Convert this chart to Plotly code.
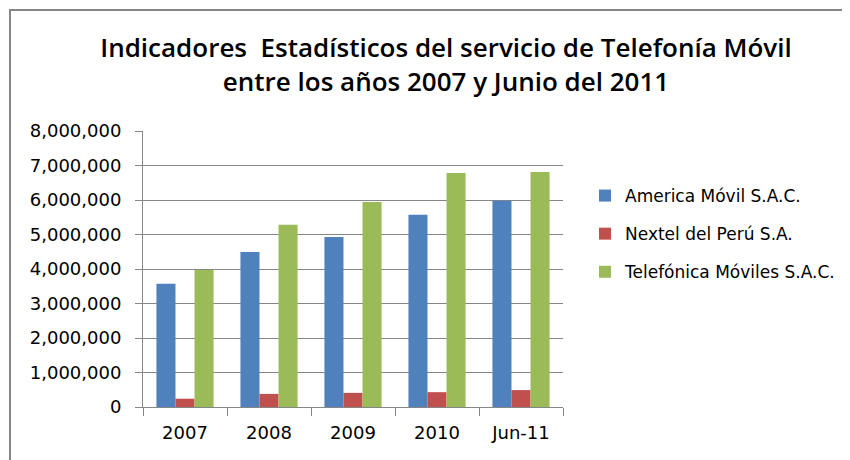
import plotly.graph_objects as go

categories = ["2007", "2008", "2009", "2010", "Jun-11"]
america = [3570000, 4490000, 4930000, 5570000, 5980000]
nextel = [240000, 380000, 410000, 430000, 490000]
telefonica = [3970000, 5280000, 5940000, 6780000, 6810000]
series_names = ["America Móvil S.A.C.", "Nextel del Perú S.A.", "Telefónica Móviles S.A.C."]
colors = ["#4F81BD", "#C0504D", "#9BBB59"]

fig = go.Figure()
for i, (name, vals) in enumerate(zip(series_names, [america, nextel, telefonica])):
    fig.add_trace(go.Bar(x=categories, y=vals, name=name, marker_color=colors[i],
                         marker_line_width=0, legendgroup=str(i)))

# page body has an 8px offset, so figure coordinates = screen coordinates - 8
OFF = 8
W, H = 850, 460
L, T = 143 - OFF, 131 - OFF
pw, ph = 420, 276
R, B = W - L - pw, H - T - ph

def px_x(v):
    return (v - OFF - L) / pw

def px_y(v):
    return (T + ph - (v - OFF)) / ph

fig.update_layout(
    width=W, height=H,
    margin=dict(l=L, r=R, t=T, b=B, pad=0),
    paper_bgcolor="white", plot_bgcolor="white",
    barmode="group", bargap=0.32, bargroupgap=0,
    title=dict(text="Indicadores  Estadísticos del servicio de Telefonía Móvil<br>entre los años 2007 y Junio del 2011",
               x=(446 - OFF) / W, xanchor="center", y=1 - (57 - OFF) / H, yanchor="middle",
               font=dict(family="Open Sans", size=26, color="#000000", weight=600)),
    font=dict(family="DejaVu Sans", color="#000000"),
    showlegend=True,
    legend=dict(x=px_x(585), xanchor="left", y=px_y(178), yanchor="top",
                font=dict(family="DejaVu Sans", size=17, color="#000000"),
                tracegroupgap=13, itemwidth=30, bgcolor="rgba(0,0,0,0)"),
    xaxis=dict(type="category", showline=True, linecolor="#868686", linewidth=1,
               ticks="outside", tickson="boundaries", ticklen=8, tickcolor="#868686",
               ticklabelstandoff=9,
               showgrid=False, tickfont=dict(family="DejaVu Sans", size=18, color="#000000")),
    yaxis=dict(range=[0, 8000000], dtick=1000000, tickformat=",d", showline=True,
               linecolor="#868686", linewidth=1, ticks="outside", ticklen=7,
               tickcolor="#868686", showgrid=True, gridcolor="#868686", gridwidth=1,
               zeroline=False, ticklabelstandoff=10,
               tickfont=dict(family="DejaVu Sans", size=18, color="#000000")),
    shapes=[dict(type="rect", xref="paper", yref="paper",
                 x0=px_x(10), x1=px_x(10 + 900), y0=px_y(10), y1=px_y(10 + 600),
                 line=dict(color="#868686", width=2), fillcolor="rgba(0,0,0,0)", layer="below")],
)

fig.write_html("out.html")
